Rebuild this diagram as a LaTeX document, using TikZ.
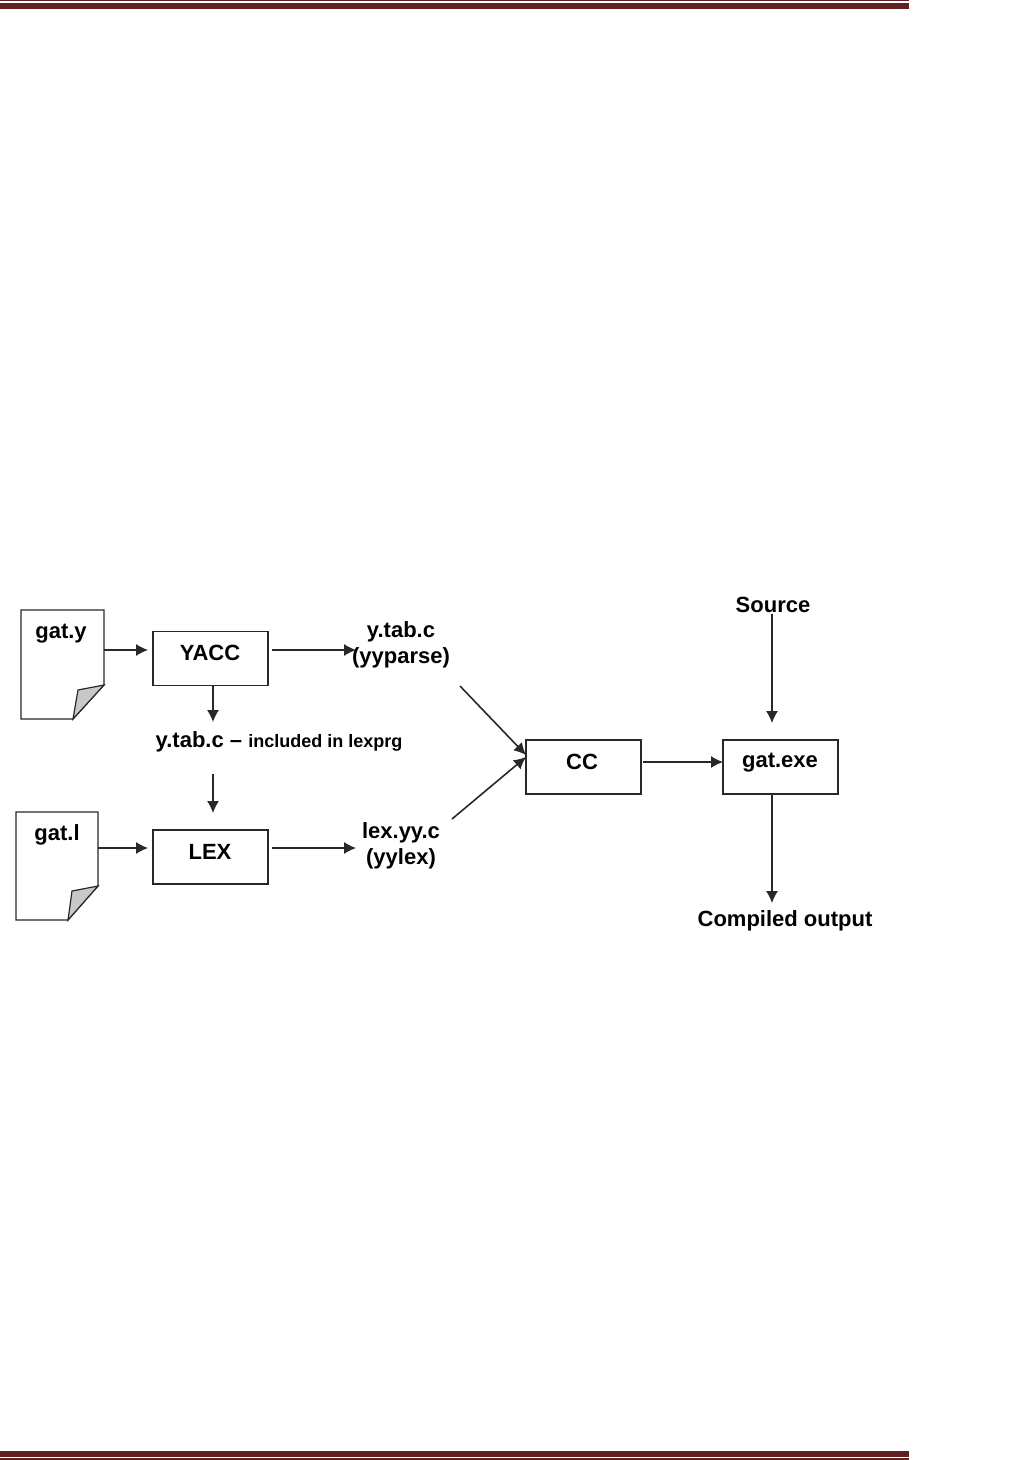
\documentclass[tikz,border=0pt]{standalone}
\usepackage{fontspec}
\usetikzlibrary{arrows.meta}
\setmainfont{Liberation Sans}
\definecolor{barcolor}{RGB}{98,33,33}
\definecolor{foldgray}{RGB}{200,200,200}
\definecolor{linegray}{RGB}{40,40,40}
\tikzset{
	boxnode/.style={draw=linegray, line width=1.2pt, minimum width=115pt, minimum height=54pt},
	labelnode/.style={inner sep=0pt, font=\fontsize{22}{26}\selectfont\bfseries, align=center},
	pageline/.style={draw=linegray, line width=1.2pt},
	arrowline/.style={-{Latex[length=12pt,width=12pt]}, draw=linegray, line width=1.2pt}
}
\begin{document}
\begin{tikzpicture}[x=1pt, y=-1pt]
	\useasboundingbox (0,0) rectangle (1027,1460);
	\fill[barcolor] (0,0) rectangle (909,1);
	\fill[barcolor] (0,3) rectangle (909,9);
	\fill[barcolor] (0,1451) rectangle (909,1457);
	\fill[barcolor] (0,1458) rectangle (909,1460);
	\draw[pageline] (73,719) -- (21,719) -- (21,610) -- (104,610) -- (104,685) -- cycle;
	\draw[pageline, fill=foldgray] (73,719) -- (78,690) -- (104,685) -- cycle;
	\draw[pageline] (68,920) -- (16,920) -- (16,812) -- (98,812) -- (98,886) -- cycle;
	\draw[pageline, fill=foldgray] (68,920) -- (72,891) -- (98,886) -- cycle;
	\node[labelnode] (gaty) at (61,634) {gat.y};
	\node[labelnode] (gatl) at (57,835) {gat.l};
	\node[boxnode] (yacc) at (210.5,658.5) {};
	\node[boxnode] (lex) at (210.5,857) {};
	\node[boxnode] (cc) at (583.5,767) {};
	\node[boxnode] (exe) at (780.5,767) {};
	\node[labelnode] (yacctext) at (210,653) {YACC};
	\node[labelnode] (lextext) at (210,852) {LEX};
	\node[labelnode] (cctext) at (582,762) {CC};
	\node[labelnode] (exetext) at (780,763) {gat.exe};
	\node[labelnode] (ytab) at (401,644.5) {y.tab.c\\(yyparse)};
	\node[labelnode] (lexyy) at (401,846) {lex.yy.c\\(yylex)};
	\node[labelnode] (incl) at (279,742) {y.tab.c -- {\fontsize{18}{20}\selectfont included in lexprg}};
	\node[labelnode] (source) at (773,605) {Source};
	\node[labelnode] (output) at (785,921) {Compiled output};
	\coordinate (gatyout) at (104,650);
	\coordinate (yaccin) at (148,650);
	\coordinate (yaccout) at (272,650);
	\coordinate (ytabin) at (356,650);
	\coordinate (yaccdown) at (213,686);
	\coordinate (inclin) at (213,722);
	\coordinate (inclout) at (213,774);
	\coordinate (lexup) at (213,813);
	\coordinate (gatlout) at (98,848);
	\coordinate (lexin) at (148,848);
	\coordinate (lexout) at (272,848);
	\coordinate (lexyyin) at (356,848);
	\coordinate (ytabout) at (460,686);
	\coordinate (ccina) at (526,755);
	\coordinate (lexyyout) at (452,819);
	\coordinate (ccinb) at (526,757);
	\coordinate (ccout) at (643,762);
	\coordinate (exein) at (723,762);
	\coordinate (sourceout) at (772,614);
	\coordinate (exetop) at (772,723);
	\coordinate (exebot) at (772,794);
	\coordinate (outputin) at (772,903);
	\draw[arrowline] (gatyout) -- (yaccin);
	\draw[arrowline] (yaccout) -- (ytabin);
	\draw[arrowline] (yaccdown) -- (inclin);
	\draw[arrowline] (inclout) -- (lexup);
	\draw[arrowline] (gatlout) -- (lexin);
	\draw[arrowline] (lexout) -- (lexyyin);
	\draw[arrowline, line width=1.6pt] (ytabout) -- (ccina);
	\draw[arrowline, line width=1.6pt] (lexyyout) -- (ccinb);
	\draw[arrowline] (ccout) -- (exein);
	\draw[arrowline] (sourceout) -- (exetop);
	\draw[arrowline] (exebot) -- (outputin);
\end{tikzpicture}
\end{document}
